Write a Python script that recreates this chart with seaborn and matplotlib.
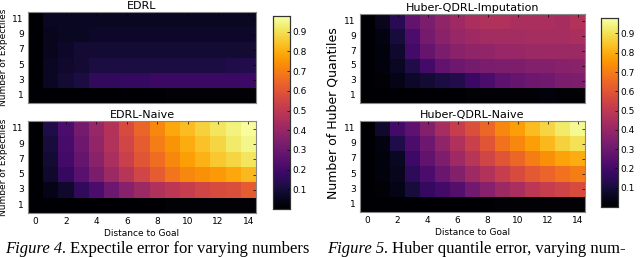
import numpy as np
import pandas as pd
import matplotlib
matplotlib.use("Agg")
import matplotlib.pyplot as plt
import seaborn as sns

distances = list(range(15))
n_expectiles = [11, 9, 7, 5, 3, 1]
n_quantiles = [11, 9, 7, 5, 3, 1]
tick_labels = [0, 2, 4, 6, 8, 10, 12, 14]

edrl = [
    [0, 0.06, 0.06, 0.06, 0.06, 0.06, 0.06, 0.06, 0.06, 0.06, 0.06, 0.06, 0.06, 0.06, 0.06],
    [0, 0.05, 0.06, 0.06, 0.07, 0.07, 0.07, 0.07, 0.07, 0.07, 0.07, 0.07, 0.07, 0.07, 0.07],
    [0, 0.05, 0.07, 0.09, 0.09, 0.09, 0.09, 0.09, 0.09, 0.09, 0.09, 0.09, 0.09, 0.09, 0.09],
    [0, 0.06, 0.08, 0.09, 0.11, 0.11, 0.11, 0.11, 0.11, 0.11, 0.11, 0.11, 0.11, 0.12, 0.13],
    [0, 0.06, 0.09, 0.11, 0.16, 0.16, 0.17, 0.17, 0.18, 0.18, 0.18, 0.18, 0.18, 0.18, 0.19],
    [0, 0, 0, 0, 0, 0, 0, 0, 0, 0.01, 0.01, 0.01, 0.01, 0.01, 0.01],
]
edrl_naive = [
    [0, 0.12, 0.22, 0.32, 0.40, 0.47, 0.57, 0.64, 0.72, 0.79, 0.83, 0.87, 0.91, 0.94, 0.97],
    [0, 0.10, 0.21, 0.30, 0.39, 0.47, 0.55, 0.62, 0.70, 0.75, 0.80, 0.84, 0.88, 0.92, 0.95],
    [0, 0.09, 0.20, 0.28, 0.37, 0.45, 0.53, 0.60, 0.66, 0.72, 0.77, 0.81, 0.85, 0.88, 0.91],
    [0, 0.08, 0.17, 0.25, 0.33, 0.41, 0.48, 0.55, 0.62, 0.68, 0.72, 0.74, 0.76, 0.79, 0.82],
    [0, 0.04, 0.08, 0.16, 0.22, 0.30, 0.36, 0.41, 0.46, 0.49, 0.52, 0.55, 0.57, 0.58, 0.62],
    [0, 0, 0, 0, 0, 0, 0, 0, 0, 0.01, 0.01, 0.01, 0.01, 0.01, 0.01],
]
huber_imp = [
    [0, 0.05, 0.14, 0.27, 0.33, 0.38, 0.42, 0.45, 0.46, 0.46, 0.45, 0.45, 0.45, 0.44, 0.47],
    [0, 0.03, 0.10, 0.22, 0.32, 0.37, 0.40, 0.42, 0.43, 0.43, 0.43, 0.44, 0.44, 0.44, 0.45],
    [0, 0.02, 0.08, 0.20, 0.28, 0.33, 0.37, 0.38, 0.39, 0.40, 0.40, 0.41, 0.41, 0.41, 0.41],
    [0, 0.02, 0.06, 0.12, 0.20, 0.27, 0.30, 0.32, 0.33, 0.34, 0.34, 0.35, 0.35, 0.36, 0.37],
    [0, 0.01, 0.04, 0.07, 0.09, 0.11, 0.13, 0.18, 0.22, 0.26, 0.28, 0.30, 0.31, 0.33, 0.34],
    [0, 0, 0, 0, 0, 0, 0, 0.01, 0.01, 0.01, 0.01, 0.01, 0.02, 0.01, 0.01],
]
huber_naive = [
    [0, 0.08, 0.20, 0.26, 0.35, 0.44, 0.52, 0.58, 0.65, 0.72, 0.77, 0.83, 0.88, 0.92, 0.96],
    [0, 0.03, 0.12, 0.22, 0.30, 0.38, 0.46, 0.53, 0.60, 0.67, 0.72, 0.77, 0.82, 0.87, 0.90],
    [0, 0.02, 0.06, 0.19, 0.27, 0.34, 0.42, 0.48, 0.55, 0.60, 0.65, 0.70, 0.74, 0.78, 0.80],
    [0, 0.02, 0.05, 0.15, 0.22, 0.29, 0.35, 0.42, 0.47, 0.52, 0.57, 0.61, 0.64, 0.67, 0.70],
    [0, 0.01, 0.04, 0.10, 0.17, 0.20, 0.24, 0.31, 0.36, 0.41, 0.45, 0.49, 0.52, 0.54, 0.57],
    [0, 0, 0, 0, 0, 0, 0, 0, 0, 0.01, 0.01, 0.01, 0.01, 0.01, 0.01],
]

VMIN, VMAX = 0.0, 0.98
W, H = 640, 257


def box(x0, y0, x1, y1):
    # pixel box -> figure fraction
    return [x0 / W, 1 - y1 / H, (x1 - x0) / W, (y1 - y0) / H]


fig = plt.figure(figsize=(6.4, 2.57), dpi=100)

panels = [
    (edrl, n_expectiles, "EDRL", box(28, 12, 256, 103), False, None),
    (edrl_naive, n_expectiles, "EDRL-Naive", box(28, 121, 256, 213), True, box(273, 16, 290, 209)),
    (huber_imp, n_quantiles, "Huber-QDRL-Imputation", box(360, 14, 585, 103), False, None),
    (huber_naive, n_quantiles, "Huber-QDRL-Naive", box(360, 121, 585, 212), True, box(601, 18, 618, 207)),
]

for vals, rows, title, pos, bottom, cpos in panels:
    ax = fig.add_axes(pos)
    df = pd.DataFrame(vals, index=rows, columns=distances)
    cax = fig.add_axes(cpos) if cpos else None
    sns.heatmap(df, ax=ax, cmap="inferno", vmin=VMIN, vmax=VMAX,
                cbar=cax is not None, cbar_ax=cax)
    ax.set_xticks([d + 0.5 for d in tick_labels])
    ax.set_xticklabels(tick_labels if bottom else [], rotation=0)
    ax.set_yticks([i + 0.5 for i in range(len(rows))])
    ax.set_yticklabels(rows, rotation=0)
    ax.tick_params(labelsize=6.5, length=2, width=0.5, direction="in",
                   left=True, right=True, top=True, bottom=True, pad=3)
    for s in ax.spines.values():
        s.set_visible(True)
        s.set_color("#888888")
        s.set_linewidth(0.8)
    ax.set_title(title, fontsize=8, pad=2)
    ax.set_xlabel("Distance to Goal" if bottom else "", fontsize=6.5, labelpad=2)
    if rows is n_expectiles:
        ax.set_ylabel("Number of Expectiles", fontsize=6.5, labelpad=3)
    else:
        ax.set_ylabel("")
    if cax is not None:
        cax.set_yticks([0.1, 0.2, 0.3, 0.4, 0.5, 0.6, 0.7, 0.8, 0.9])
        cax.tick_params(labelsize=6.5, length=2, width=0.5, direction="in", pad=2)
        for s in cax.spines.values():
            s.set_visible(True)
            s.set_color("#333333")
            s.set_linewidth(0.8)

fig.text(333 / W, 1 - 113 / H, "Number of Huber Quantiles", rotation=90,
         ha="center", va="center", fontsize=9)

# captions: italic label followed by the plain text
cap_font = ["Liberation Serif", "DejaVu Serif"]
renderer = fig.canvas.get_renderer()
for x0, label, rest in [(5, "Figure 4.", "Expectile error for varying numbers"),
                        (327, "Figure 5.", "Huber quantile error, varying num-")]:
    t = fig.text(x0 / W, 0, label, fontsize=12, family=cap_font,
                 style="italic", va="bottom")
    bb = t.get_window_extent(renderer)
    fig.text((bb.x1 + 4) / W, 0, rest, fontsize=12, family=cap_font, va="bottom")

fig.savefig("out.png", dpi=100)
